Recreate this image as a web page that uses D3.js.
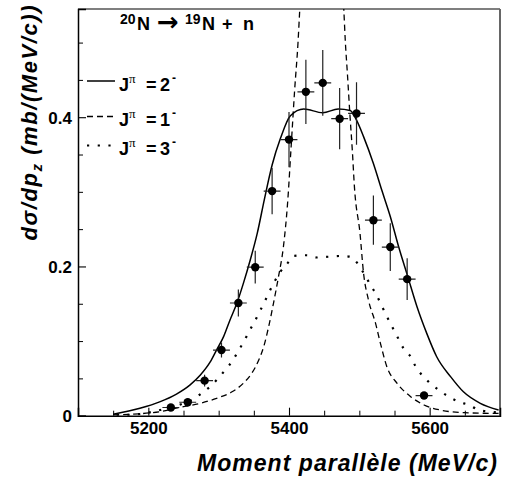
<!DOCTYPE html>
<html>
<head>
<meta charset="utf-8">
<script src="https://cdn.jsdelivr.net/npm/d3@7"></script>
<style>
	body { margin: 0; background: #fff; }
	text { font-family: "Liberation Sans", Arial, sans-serif; font-weight: bold; fill: #000; }
</style>
</head>
<body>
<div id="chart"></div>
<script>
// measured points
const pMom = [5232, 5256, 5280, 5304, 5328, 5352, 5376, 5400, 5424, 5448, 5472, 5496, 5520, 5544, 5568, 5592];
const pVal = [0.011, 0.018, 0.047, 0.088, 0.151, 0.199, 0.301, 0.370, 0.434, 0.446, 0.398, 0.405, 0.262, 0.226, 0.183, 0.027];
const pErr = [0.004, 0.005, 0.008, 0.010, 0.018, 0.022, 0.031, 0.037, 0.043, 0.044, 0.041, 0.042, 0.033, 0.032, 0.028, 0.004];
const halfBin = 12;

// J = 2- (solid)
const j2Mom = [5150, 5188, 5217, 5240, 5259, 5274, 5288, 5297, 5307, 5316, 5326, 5335, 5345, 5355, 5365, 5376, 5388, 5402, 5421, 5448, 5470, 5487, 5496, 5506, 5520, 5532, 5544, 5556, 5569, 5582, 5596, 5610, 5630, 5648, 5672, 5698];
const j2Val = [0.002, 0.0099, 0.0188, 0.029, 0.041, 0.0545, 0.072, 0.088, 0.106, 0.128, 0.151, 0.177, 0.209, 0.245, 0.29, 0.336, 0.372, 0.402, 0.411, 0.406, 0.411, 0.409, 0.396, 0.374, 0.338, 0.302, 0.267, 0.226, 0.186, 0.146, 0.110, 0.079, 0.052, 0.032, 0.0166, 0.0076];

// J = 1- (dashed), top part runs off the frame
const j1Mom = [5150, 5217, 5245, 5274, 5297, 5319, 5335, 5347, 5357, 5364, 5371, 5378, 5385, 5392, 5398, 5403, 5408, 5413, 5415, 5430, 5447, 5464, 5478, 5480, 5483, 5486.5, 5490, 5493, 5501, 5506, 5513, 5523, 5530, 5539, 5554, 5573, 5592, 5615, 5649, 5698];
const j1Val = [0.001, 0.0054, 0.0113, 0.0166, 0.0233, 0.032, 0.0434, 0.0568, 0.0746, 0.0924, 0.119, 0.151, 0.186, 0.226, 0.285, 0.36, 0.436, 0.503, 0.539, 0.75, 0.82, 0.75, 0.543, 0.503, 0.459, 0.405, 0.356, 0.307, 0.244, 0.191, 0.155, 0.124, 0.097, 0.066, 0.043, 0.0255, 0.0143, 0.0076, 0.004, 0.003];

// J = 3- (dotted)
const j3Mom = [5155, 5188, 5217, 5233, 5250, 5264, 5277, 5289, 5300, 5310, 5320, 5328, 5336, 5343, 5351, 5358, 5365, 5372, 5379, 5387, 5397, 5406, 5425, 5440, 5456, 5473, 5487, 5499, 5508, 5516, 5523, 5530, 5537, 5544, 5554, 5563, 5573, 5580, 5589, 5601, 5613, 5627, 5641, 5656, 5670, 5687, 5700];
const j3Val = [0.0005, 0.0023, 0.0076, 0.011, 0.0166, 0.022, 0.031, 0.040, 0.051, 0.062, 0.074, 0.087, 0.0997, 0.1125, 0.126, 0.139, 0.152, 0.166, 0.179, 0.192, 0.203, 0.214, 0.215, 0.212, 0.213, 0.214, 0.213, 0.202, 0.188, 0.175, 0.164, 0.151, 0.137, 0.124, 0.106, 0.090, 0.079, 0.066, 0.0545, 0.0434, 0.0344, 0.0255, 0.0188, 0.0143, 0.0076, 0.0054, 0.004];

const xMajor = [5200, 5400, 5600];
const yMajor = [0, 0.2, 0.4];

const legendItems = [
	{ label: "2", dash: null, width: 1.5 },
	{ label: "1", dash: "6 4", width: 1.3 },
	{ label: "3", dash: "2.2 8.5", width: 2.2 },
];

const W = 505, H = 483;
const mLeft = 78, mRight = 500, mTop = 9, mBottom = 415.7;

const svg = d3.select("#chart").append("svg")
	.attr("width", W)
	.attr("height", H);

const x = d3.scaleLinear().domain([5100, 5700]).range([mLeft, mRight]);
const y = d3.scaleLinear().domain([0, 0.545]).range([mBottom, mTop]);

svg.append("clipPath").attr("id", "plot")
	.append("rect")
	.attr("x", mLeft).attr("y", mTop)
	.attr("width", mRight - mLeft).attr("height", mBottom - mTop);

// frame
svg.append("line").attr("x1", mLeft).attr("x2", mRight).attr("y1", mTop).attr("y2", mTop)
	.attr("stroke", "#555").attr("stroke-width", 1.3);
svg.append("line").attr("x1", mRight).attr("x2", mRight).attr("y1", mTop).attr("y2", mBottom)
	.attr("stroke", "#666").attr("stroke-width", 2);

// minor ticks
const xMinor = d3.range(5150, 5701, 50).filter((v) => !xMajor.includes(v));
const yMinor = d3.range(0.05, 0.546, 0.05).filter((v) => !yMajor.some((m) => Math.abs(m - v) < 1e-6));

svg.append("g")
	.attr("transform", `translate(0,${mBottom})`)
	.call(d3.axisBottom(x).tickValues(xMinor).tickSize(-5).tickFormat(""))
	.call((g) => g.select(".domain").remove());
svg.append("g")
	.attr("transform", `translate(${mLeft},0)`)
	.call(d3.axisLeft(y).tickValues(yMinor).tickSize(-5).tickFormat(""))
	.call((g) => g.select(".domain").remove());

const xAxis = svg.append("g")
	.attr("transform", `translate(0,${mBottom})`)
	.call(d3.axisBottom(x).tickValues(xMajor).tickSize(-8).tickPadding(6).tickFormat(d3.format("d")));
const yAxis = svg.append("g")
	.attr("transform", `translate(${mLeft},0)`)
	.call(d3.axisLeft(y).tickValues(yMajor).tickSize(-8).tickPadding(6).tickFormat((d) => (d === 0 ? "0" : d3.format(".1f")(d))));

[xAxis, yAxis].forEach((g) => {
	g.select(".domain").attr("stroke-width", 1.5).attr("stroke", "#000");
	g.selectAll("text").attr("font-family", '"Liberation Sans", Arial, sans-serif')
		.attr("font-weight", "bold").attr("font-size", 17);
	g.selectAll("line").attr("stroke-width", 1.1);
});
yAxis.selectAll("text").attr("dy", "0.36em");

// curves
const plot = svg.append("g").attr("clip-path", "url(#plot)");
const line = d3.line()
	.x((d) => x(d[0]))
	.y((d) => y(d[1]))
	.curve(d3.curveMonotoneX);

const curves = [
	{ mom: j1Mom, val: j1Val, style: legendItems[1] },
	{ mom: j3Mom, val: j3Val, style: legendItems[2] },
	{ mom: j2Mom, val: j2Val, style: legendItems[0] },
];
curves.forEach((c) => {
	plot.append("path")
		.datum(c.mom.map((m, i) => [m, c.val[i]]))
		.attr("d", line)
		.attr("fill", "none")
		.attr("stroke", "#000")
		.attr("stroke-width", c.style.width)
		.attr("stroke-dasharray", c.style.dash);
});

// data points with error bars
const pts = plot.selectAll("g.pt")
	.data(pMom.map((m, i) => ({ m, v: pVal[i], e: pErr[i] })))
	.enter().append("g").attr("class", "pt");
pts.append("line")
	.attr("x1", (d) => x(d.m)).attr("x2", (d) => x(d.m))
	.attr("y1", (d) => y(d.v - d.e)).attr("y2", (d) => y(d.v + d.e))
	.attr("stroke", "#222").attr("stroke-width", 1.2);
pts.append("line")
	.attr("x1", (d) => x(d.m - halfBin)).attr("x2", (d) => x(d.m + halfBin))
	.attr("y1", (d) => y(d.v)).attr("y2", (d) => y(d.v))
	.attr("stroke", "#222").attr("stroke-width", 1.2);
pts.append("circle")
	.attr("cx", (d) => x(d.m)).attr("cy", (d) => y(d.v))
	.attr("r", 4.2).attr("fill", "#000");

// title: 20N -> 19N + n
const title = svg.append("text").attr("y", 30).attr("font-size", 18);
title.append("tspan").attr("x", 120).attr("font-size", 14).attr("dy", -6).text("20");
title.append("tspan").attr("x", 137).attr("dy", 6).text("N");
title.append("tspan").attr("x", 157).attr("font-family", '"DejaVu Sans", sans-serif').attr("font-size", 26).attr("dy", 1).text("→");
title.append("tspan").attr("x", 185).attr("font-size", 14).attr("dy", -7).text("19");
title.append("tspan").attr("x", 202).attr("dy", 6).text("N");
title.append("tspan").attr("x", 222).text("+");
title.append("tspan").attr("x", 243).text("n");

// legend
const legendY = [81, 116.5, 145.5];
legendItems.forEach((item, i) => {
	const ly = legendY[i];
	svg.append("line")
		.attr("x1", 87).attr("x2", 115).attr("y1", ly).attr("y2", ly)
		.attr("stroke", "#000").attr("stroke-width", item.width)
		.attr("stroke-dasharray", item.dash);
	const t = svg.append("text").attr("y", ly + 9.5).attr("font-size", 18);
	t.append("tspan").attr("x", 119).text("J");
	t.append("tspan").attr("x", 129).attr("font-size", 13).attr("dy", -8).attr("font-weight", "normal")
		.attr("font-family", '"Liberation Serif", serif').text("π");
	t.append("tspan").attr("x", 146).attr("dy", 8).text("=");
	t.append("tspan").attr("x", 160).text(item.label);
	t.append("tspan").attr("x", 172).attr("font-size", 12).attr("dy", -9).text("-");
});

// axis titles
svg.append("text")
	.attr("x", 497).attr("y", 471)
	.attr("text-anchor", "end")
	.attr("font-size", 23).attr("font-style", "italic")
	.attr("textLength", 300).attr("lengthAdjust", "spacing")
	.text("Moment parallèle (MeV/c)");

const yt = svg.append("text")
	.attr("transform", "translate(37,123) rotate(-90)")
	.attr("text-anchor", "middle")
	.attr("font-size", 22).attr("font-style", "italic")
	.attr("textLength", 235).attr("lengthAdjust", "spacing");
yt.append("tspan").text("dσ/dp");
yt.append("tspan").attr("font-size", 15).attr("dy", 5).text("z");
yt.append("tspan").attr("dy", -5).text(" (mb/(MeV/c))");
</script>
</body>
</html>
